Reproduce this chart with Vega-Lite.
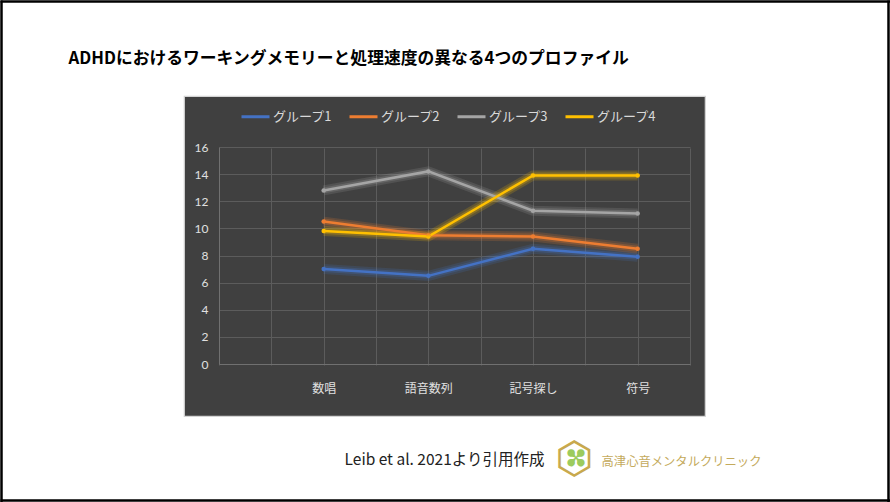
{
  "$schema": "https://vega.github.io/schema/vega-lite/v6.json",
  "width": 521,
  "height": 320,
  "autosize": {"type": "none"},
  "padding": {"left": 184, "top": 96, "right": 185, "bottom": 86},
  "background": "#ffffff",
  "config": {
    "view": {"fill": "#404040", "stroke": "#d4d4d4", "strokeWidth": 1.2}
  },
  "data": {
    "values": [
      {"group": "グループ1", "test": "数唱", "score": 7.0},
      {"group": "グループ1", "test": "語音数列", "score": 6.5},
      {"group": "グループ1", "test": "記号探し", "score": 8.5},
      {"group": "グループ1", "test": "符号", "score": 7.9},
      {"group": "グループ2", "test": "数唱", "score": 10.5},
      {"group": "グループ2", "test": "語音数列", "score": 9.5},
      {"group": "グループ2", "test": "記号探し", "score": 9.4},
      {"group": "グループ2", "test": "符号", "score": 8.5},
      {"group": "グループ3", "test": "数唱", "score": 12.8},
      {"group": "グループ3", "test": "語音数列", "score": 14.2},
      {"group": "グループ3", "test": "記号探し", "score": 11.3},
      {"group": "グループ3", "test": "符号", "score": 11.1},
      {"group": "グループ4", "test": "数唱", "score": 9.8},
      {"group": "グループ4", "test": "語音数列", "score": 9.4},
      {"group": "グループ4", "test": "記号探し", "score": 13.9},
      {"group": "グループ4", "test": "符号", "score": 13.9}
    ]
  },
  "resolve": {
    "scale": {"x": "independent", "y": "independent"},
    "axis": {"x": "independent", "y": "independent"}
  },
  "layer": [
    {
      "encoding": {
        "x": {
          "field": "test",
          "type": "nominal",
          "sort": null,
          "scale": {
            "type": "point",
            "domain": ["_a", "_b", "数唱", "_c", "語音数列", "_d", "記号探し", "_e", "符号", "_f"],
            "range": [35, 506],
            "padding": 0
          },
          "axis": {
            "orient": "bottom",
            "offset": -52,
            "labelAngle": 0,
            "labelExpr": "indexof(datum.value, '_') == 0 ? '' : datum.value",
            "ticks": false,
            "grid": true,
            "gridColor": "#5c5c5c",
            "gridWidth": 1,
            "domainColor": "#707070",
            "domainWidth": 1,
            "labelColor": "#e0e0e0",
            "labelFont": "Noto Sans CJK JP",
            "labelFontSize": 12,
            "labelPadding": 19,
            "title": "Leib et al. 2021より引用作成",
            "titleX": 260,
            "titleY": 95,
            "titleAlign": "center",
            "titleBaseline": "middle",
            "titleFont": "Noto Sans CJK JP",
            "titleFontSize": 15.5,
            "titleFontWeight": "normal",
            "titleColor": "#222222"
          }
        },
        "y": {
          "field": "score",
          "type": "quantitative",
          "scale": {"domain": [0, 16], "range": [268, 51], "nice": false, "zero": true},
          "axis": {
            "orient": "left",
            "offset": -35,
            "values": [0, 2, 4, 6, 8, 10, 12, 14, 16],
            "ticks": false,
            "grid": true,
            "gridColor": "#5c5c5c",
            "gridWidth": 1,
            "domainColor": "#707070",
            "domainWidth": 1,
            "labelColor": "#e0e0e0",
            "labelFont": "Lato",
            "labelFontSize": 12,
            "labelPadding": 11,
            "title": "高津心音メンタルクリニック",
            "titleAngle": 0,
            "titleX": 462,
            "titleY": 365,
            "titleAlign": "center",
            "titleBaseline": "middle",
            "titleFont": "Noto Sans CJK JP",
            "titleFontSize": 12.3,
            "titleFontWeight": "normal",
            "titleColor": "#c4aa5c"
          }
        },
        "color": {
          "field": "group",
          "type": "nominal",
          "scale": {"domain": ["グループ1", "グループ2", "グループ3", "グループ4"], "range": ["#4472c4", "#ed7d31", "#a5a5a5", "#ffc000"]},
          "legend": {
            "orient": "none",
            "legendX": 56,
            "legendY": 5,
            "direction": "horizontal",
            "title": null,
            "symbolType": "stroke",
            "symbolSize": 784,
            "symbolStrokeWidth": 3,
            "symbolOpacity": 1,
            "labelFont": "Noto Sans CJK JP",
            "labelFontSize": 13,
            "labelColor": "#d9d9d9",
            "labelOffset": 2,
            "columnPadding": 10
          }
        }
      },
      "layer": [
        {"mark": {"type": "line", "strokeWidth": 10, "strokeOpacity": 0.18}},
        {"mark": {"type": "line", "strokeWidth": 6, "strokeOpacity": 0.25}},
        {"mark": {"type": "line", "strokeWidth": 2.5}},
        {"mark": {"type": "point", "filled": true, "size": 20, "opacity": 1}},
        {"mark": {"type": "point", "filled": true, "size": 6, "opacity": 0.55, "color": "#ffffff"}}
      ]
    },
    {
      "mark": {"type": "point", "opacity": 0},
      "encoding": {
        "x": {
          "field": "test",
          "type": "nominal",
          "scale": {"type": "point", "range": [-184, 706], "padding": 0},
          "axis": {
            "orient": "top", "offset": 95, "labels": false, "ticks": false, "grid": false,
            "domainColor": "#000000", "domainWidth": 2.5,
            "title": "ADHDにおけるワーキングメモリーと処理速度の異なる4つのプロファイル",
            "titleX": -116, "titleY": 57, "titleAlign": "left", "titleBaseline": "middle",
            "titleFont": "Noto Sans CJK JP", "titleFontSize": 16.8, "titleFontWeight": "bold", "titleColor": "#000000"
          }
        },
        "y": {
          "field": "score",
          "type": "quantitative",
          "scale": {"domain": [0, 16], "range": [406, -96], "nice": false},
          "axis": {
            "orient": "right", "offset": 183, "labels": false, "ticks": false, "grid": false,
            "domainColor": "#000000", "domainWidth": 2.5,
            "title": "⬡",
            "titleAngle": 0, "titleX": -314, "titleY": 363, "titleAlign": "center", "titleBaseline": "middle",
            "titleFont": "DejaVu Sans", "titleFontSize": 44, "titleFontWeight": "normal", "titleColor": "#c8a94e"
          }
        }
      }
    },
    {
      "mark": {"type": "point", "opacity": 0},
      "encoding": {
        "x": {
          "field": "test",
          "type": "nominal",
          "scale": {"type": "point", "range": [-184, 706], "padding": 0},
          "axis": {
            "orient": "bottom", "offset": 84, "labels": false, "ticks": false, "grid": false,
            "domainColor": "#000000", "domainWidth": 2.5,
            "title": "✤",
            "titleAngle": 45, "titleX": 390, "titleY": -41, "titleAlign": "center", "titleBaseline": "middle",
            "titleFont": "DejaVu Sans", "titleFontSize": 28, "titleFontWeight": "normal", "titleColor": "#9ccb5e"
          }
        },
        "y": {
          "field": "score",
          "type": "quantitative",
          "scale": {"domain": [0, 16], "range": [406, -96], "nice": false},
          "axis": {"orient": "left", "offset": 183, "labels": false, "ticks": false, "grid": false, "title": null, "domainColor": "#000000", "domainWidth": 2.5}
        }
      }
    }
  ]
}
